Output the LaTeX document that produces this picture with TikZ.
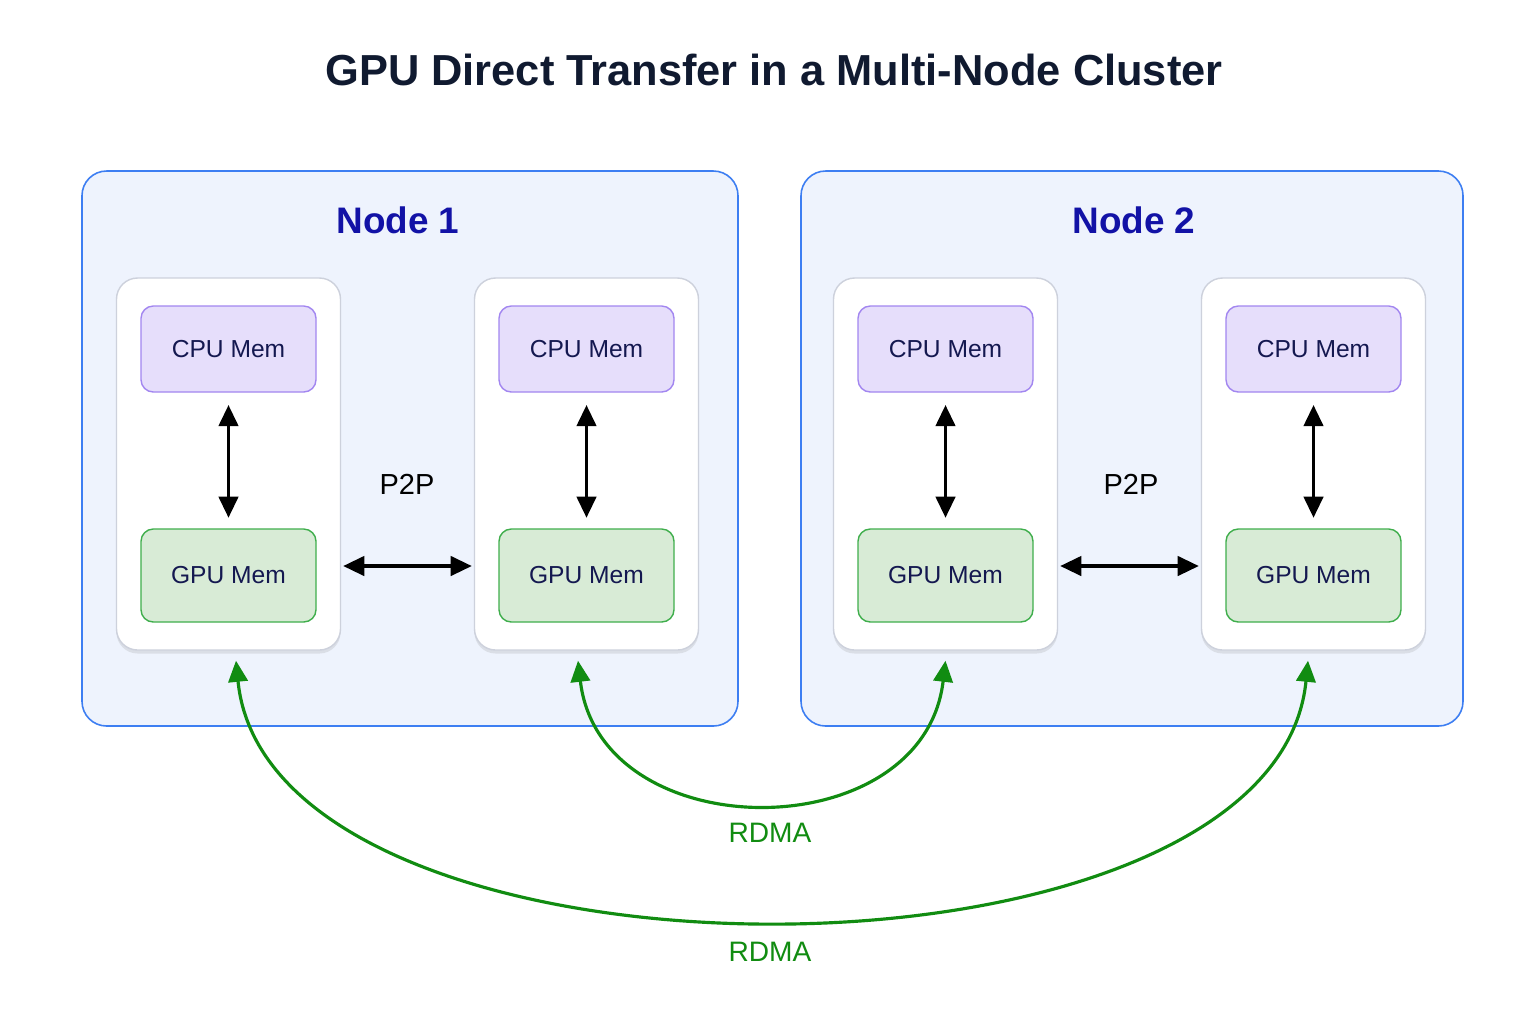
\documentclass[tikz,border=0pt]{standalone}
\usepackage{fontspec}
\setmainfont{Liberation Sans}
\usetikzlibrary{arrows.meta,calc,shadows}

\definecolor{titletext}{HTML}{101A30}
\definecolor{nodefill}{HTML}{EEF3FD}
\definecolor{nodeline}{HTML}{3D7EF2}
\definecolor{nodetext}{HTML}{1212A6}
\definecolor{cardline}{HTML}{CDD1DC}
\definecolor{cpufill}{HTML}{E6DEFB}
\definecolor{cpuline}{HTML}{A286F0}
\definecolor{gpufill}{HTML}{D8EBD6}
\definecolor{gpuline}{HTML}{3FAE4C}
\definecolor{memtext}{HTML}{141850}
\definecolor{rdma}{HTML}{118C11}

\tikzset{
  cluster/.style={draw=nodeline, line width=0.9pt, fill=nodefill, rounded corners=14pt,
    minimum height=11.1cm, inner sep=0pt},
  card/.style={draw=cardline, line width=0.8pt, fill=white, rounded corners=12pt,
    minimum width=4.48cm, minimum height=7.44cm, inner sep=0pt,
    drop shadow={opacity=0.18, shadow xshift=0pt, shadow yshift=-2pt}},
  cpumem/.style={draw=cpuline, fill=cpufill, line width=0.8pt, rounded corners=7pt,
    minimum width=3.5cm, minimum height=1.72cm, text=memtext, font=\fontsize{14}{16}\selectfont},
  gpumem/.style={draw=gpuline, fill=gpufill, line width=0.8pt, rounded corners=7pt,
    minimum width=3.5cm, minimum height=1.86cm, text=memtext, font=\fontsize{14}{16}\selectfont},
  nodetitle/.style={text=nodetext, font=\fontsize{21}{24}\selectfont\bfseries},
  linklabel/.style={font=\fontsize{16.5}{18}\selectfont},
  rdmalabel/.style={text=rdma, font=\fontsize{16}{18}\selectfont},
  link/.style={{Triangle[length=12pt,width=11pt]}-{Triangle[length=12pt,width=11pt]}, line width=1.9pt},
  rdmalink/.style={{Triangle[length=12pt,width=11pt]}-{Triangle[length=12pt,width=11pt]},
    line width=1.8pt, draw=rdma},
}

\begin{document}
\begin{tikzpicture}[line cap=round,line join=round]
\fill[white] (0,0) rectangle (30.72,-20.48);
\useasboundingbox (0,0) rectangle (30.72,-20.48);

\node[text=titletext, font=\fontsize{24.7}{28}\selectfont\bfseries] (title) at (15.48,-1.4)
  {GPU Direct Transfer in a Multi-Node Cluster};

% two cluster nodes
\node[cluster, minimum width=13.12cm] (n1) at (8.2,-8.97) {};
\node[cluster, minimum width=13.24cm] (n2) at (22.64,-8.97) {};
\node[nodetitle] (t1) at (7.96,-4.4) {Node 1};
\node[nodetitle] (t2) at (22.68,-4.4) {Node 2};

% one card per GPU
\node[card] (in1) at (4.57,-9.28) {};
\node[card] (in2) at (11.73,-9.28) {};
\node[card] (in3) at (18.91,-9.28) {};
\node[card] (in4) at (26.27,-9.28) {};

\node[cpumem] (cpu1) at (4.57,-6.98) {CPU Mem};
\node[cpumem] (cpu2) at (11.73,-6.98) {CPU Mem};
\node[cpumem] (cpu3) at (18.91,-6.98) {CPU Mem};
\node[cpumem] (cpu4) at (26.27,-6.98) {CPU Mem};

\node[gpumem] (gpu1) at (4.57,-11.51) {GPU Mem};
\node[gpumem] (gpu2) at (11.73,-11.51) {GPU Mem};
\node[gpumem] (gpu3) at (18.91,-11.51) {GPU Mem};
\node[gpumem] (gpu4) at (26.27,-11.51) {GPU Mem};

\draw[link, shorten <=7pt, shorten >=6pt] (cpu1) -- (gpu1);
\draw[link, shorten <=7pt, shorten >=6pt] (cpu2) -- (gpu2);
\draw[link, shorten <=7pt, shorten >=6pt] (cpu3) -- (gpu3);
\draw[link, shorten <=7pt, shorten >=6pt] (cpu4) -- (gpu4);

% P2P inside a node
\draw[link] ($(in1.east |- gpu1)+(0.04,0.19)$) -- ($(in2.west |- gpu2)+(-0.04,0.19)$);
\draw[link] ($(in3.east |- gpu3)+(0.04,0.19)$) -- ($(in4.west |- gpu4)+(-0.04,0.19)$);
\node[linklabel] (p2p1) at (8.14,-9.68) {P2P};
\node[linklabel] (p2p2) at (22.62,-9.68) {P2P};

% RDMA between nodes
\coordinate (ra) at ($(in2.south)+(-0.17,-0.2)$);
\coordinate (rb) at ($(in3.south)+(0,-0.2)$);
\coordinate (rc) at ($(in1.south)+(0.15,-0.2)$);
\coordinate (rd) at ($(in4.south)+(-0.11,-0.2)$);

\draw[rdmalink] (ra) .. controls ($(ra)+(0.44,-3.78)$) and ($(rb)+(-0.44,-3.78)$) .. (rb);
\draw[rdmalink] (rc) .. controls ($(rc)+(0.68,-6.89)$) and ($(rd)+(-0.68,-6.89)$) .. (rd);
\node[rdmalabel] (l1) at (15.4,-16.66) {RDMA};
\node[rdmalabel] (l2) at (15.4,-19.04) {RDMA};
\end{tikzpicture}
\end{document}
